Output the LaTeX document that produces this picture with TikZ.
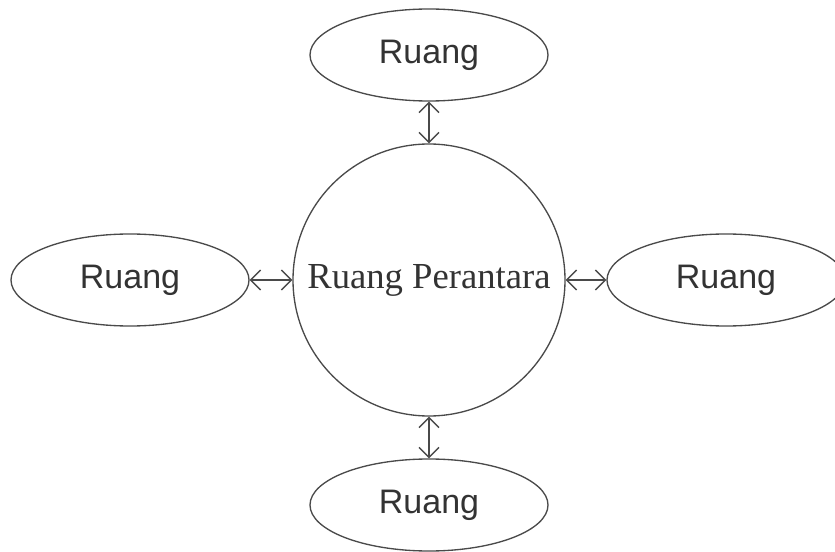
\documentclass[tikz,border=0pt]{standalone}
\usepackage{fontspec}
\setmainfont{Liberation Serif}
\newfontfamily\sansf{Liberation Sans}
\usetikzlibrary{shapes.geometric,arrows.meta}
\definecolor{linegray}{HTML}{4A4A4A}
\definecolor{textgray}{HTML}{333333}
\begin{document}
\begin{tikzpicture}[x=0.75pt,y=-0.75pt,
  room/.style={ellipse,draw=linegray,line width=1pt,inner sep=0pt,
    minimum width=178.5pt,minimum height=69pt,text=textgray,
    font=\sansf\fontsize{25.5}{30}\selectfont},
  hub/.style={circle,draw=linegray,line width=1pt,inner sep=0pt,
    minimum size=204pt,text=textgray,font=\fontsize{27.5}{32}\selectfont},
  link/.style={draw=linegray,line width=1pt,
    {Straight Barb[length=7.5pt,width=15pt]}-{Straight Barb[length=7.5pt,width=15pt]}}]
  \useasboundingbox (0,0) rectangle (835,552);
  \clip (0,0) rectangle (835,552);
  \node[hub] (mid) at (429,280) {Ruang Perantara};
  \node[room] (top) at (429,55) {Ruang};
  \node[room] (bot) at (429,505) {Ruang};
  \node[room] (lft) at (130,280) {Ruang};
  \node[room] (rgt) at (726,280) {Ruang};
  \draw[link] (top) -- (mid);
  \draw[link] (mid) -- (bot);
  \draw[link] (lft) -- (mid);
  \draw[link] (mid) -- (rgt);
\end{tikzpicture}
\end{document}
